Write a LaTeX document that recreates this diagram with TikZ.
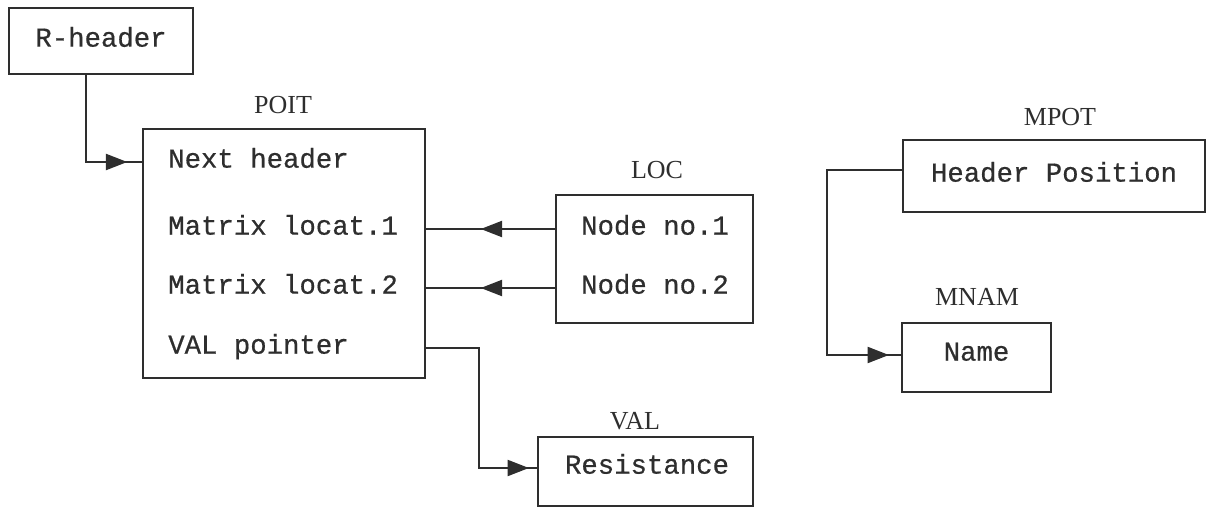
\documentclass[tikz,border=0pt]{standalone}
\usepackage{fontspec}
\setmainfont{Liberation Serif}
\newfontfamily\monofont[FakeBold=0.6]{Liberation Mono}
\usetikzlibrary{arrows.meta,decorations.markings}
\definecolor{ink}{HTML}{2E2E2E}
\begin{document}
\begin{tikzpicture}[
  x=0.75pt, y=-0.75pt,
  boxed/.style 2 args={draw=ink, line width=1.6pt, inner sep=0pt,
    minimum width=#1*0.75pt, minimum height=#2*0.75pt},
  entry/.style={inner sep=0pt, text=ink, text height=0.85em, text depth=0pt,
    font=\monofont\fontsize{20.5}{24}\selectfont},
  caption/.style={inner sep=0pt, text=ink, font=\fontsize{19.5}{22}\selectfont},
  conn/.style={draw=ink, line width=1.6pt},
  tipat/.style={postaction={decorate}, decoration={markings,
    mark=at position -#1 with {\arrow{Triangle[length=16pt,width=12pt]}}}}
]
\useasboundingbox (0,0) rectangle (1210,510);

% record boxes
\node[boxed={184}{66}]  (rhdr) at (101,41)      {};
\node[boxed={282}{249}] (poit) at (284,253.5)   {};
\node[boxed={197}{128}] (loc)  at (654.5,259)   {};
\node[boxed={215}{69}]  (val)  at (645.5,471.5) {};
\node[boxed={302}{72}]  (mpot) at (1054,176)    {};
\node[boxed={149}{69}]  (mnam) at (976.5,357.5) {};

% record names
\node[caption] (poitcap) at (283,105)  {POIT};
\node[caption] (loccap)  at (657,170)  {LOC};
\node[caption] (valcap)  at (635,421)  {VAL};
\node[caption] (mpotcap) at (1060,117) {MPOT};
\node[caption] (mnamcap) at (977,297)  {MNAM};

% fields
\node[entry] (rtext) at (rhdr.center) {R-header};
\node[entry, anchor=west] (r1) at (168,162) {Next header};
\node[entry, anchor=west] (r2) at (168,229) {Matrix locat.1};
\node[entry, anchor=west] (r3) at (168,288) {Matrix locat.2};
\node[entry, anchor=west] (r4) at (168,348) {VAL pointer};
\node[entry] (n1) at (655,229) {Node no.1};
\node[entry] (n2) at (655,288) {Node no.2};
\node[entry] (res) at (647,468) {Resistance};
\node[entry] (hpos) at (1054,176) {Header Position};
\node[entry] (nm) at (976.5,355) {Name};

% pointers
\draw[conn, tipat=11pt] ([xshift=-11.25pt]rhdr.south) |- (poit.west |- r1);
\draw[conn, tipat=41pt] (loc.west |- n1) -- (poit.east |- n1);
\draw[conn, tipat=41pt] (loc.west |- n2) -- (poit.east |- n2);
\draw[conn, tipat=6pt] (poit.east |- r4) -- ++(53,0) |- (val.west |- res);
\draw[conn, tipat=9pt] ([yshift=4.5pt]mpot.west) -- ++(-75,0) |- (mnam.west |- nm);
\end{tikzpicture}
\end{document}
